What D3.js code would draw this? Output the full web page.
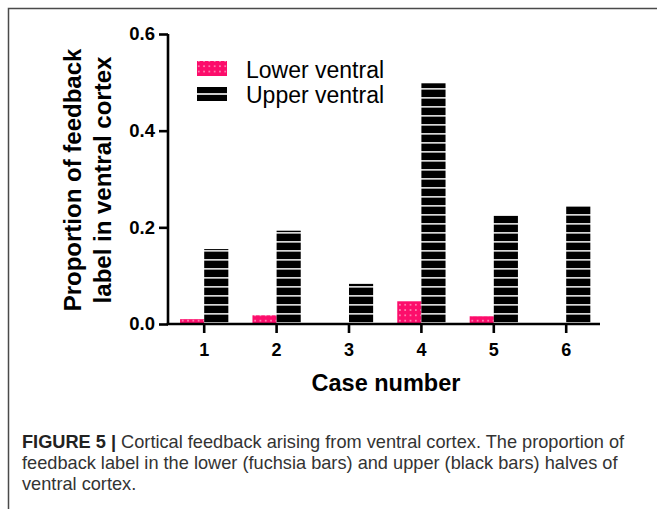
<!DOCTYPE html>
<html>
<head>
<meta charset="utf-8">
<script src="https://cdnjs.cloudflare.com/ajax/libs/d3/7.8.5/d3.min.js"></script>
<style>
  body { margin: 0; background: #fff; }
  svg { display: block; font-family: "Liberation Sans", Arial, sans-serif; }
</style>
</head>
<body>
<div id="chart"></div>
<script>
var cases = ["1", "2", "3", "4", "5", "6"];
var lowerVentral = [0.010, 0.018, 0.000, 0.047, 0.016, 0.000];
var upperVentral = [0.155, 0.193, 0.083, 0.498, 0.224, 0.244];
var seriesNames = ["Lower ventral", "Upper ventral"];
var yTicks = [0, 0.2, 0.4, 0.6];
var captionLines = [
  ["FIGURE 5 | ", "Cortical feedback arising from ventral cortex. The proportion of"],
  ["", "feedback label in the lower (fuchsia bars) and upper (black bars) halves of"],
  ["", "ventral cortex."]
];

var width = 657, height = 509;
var fuchsia = "#fc0d6b";

var svg = d3.select("#chart").append("svg")
    .attr("width", width)
    .attr("height", height);

// patterns
var defs = svg.append("defs");
var dots = defs.append("pattern")
    .attr("id", "dots")
    .attr("patternUnits", "userSpaceOnUse")
    .attr("width", 5.3).attr("height", 5.3);
dots.append("rect").attr("width", 5.3).attr("height", 5.3).attr("fill", fuchsia);
dots.append("rect").attr("x", 2).attr("y", 2).attr("width", 1.3).attr("height", 1.3).attr("fill", "#fff").attr("opacity", 0.85);

var stripes = defs.append("pattern")
    .attr("id", "stripes")
    .attr("patternUnits", "userSpaceOnUse")
    .attr("width", 10).attr("height", 9);
stripes.append("rect").attr("width", 10).attr("height", 9).attr("fill", "#000");
stripes.append("rect").attr("y", 7).attr("width", 10).attr("height", 1.7).attr("fill", "#d8d8d8");

// frame
svg.append("path")
    .attr("d", "M8.5,509 V8.5 H657")
    .attr("fill", "none")
    .attr("stroke", "#4a4a4a")
    .attr("stroke-width", 1.5);

var x = d3.scaleBand().domain(cases).range([168, 602.4]).paddingInner(1 / 3).paddingOuter(1 / 6);
var xs = d3.scaleBand().domain(seriesNames).range([0, x.bandwidth()]);
var y = d3.scaleLinear().domain([0, 0.6]).range([324, 34]);

var rows = cases.map(function(c, i) {
  return { c: c, vals: [lowerVentral[i], upperVentral[i]] };
});

var g = svg.append("g");
g.selectAll("g.case")
  .data(rows)
  .enter().append("g")
    .attr("class", "case")
    .attr("transform", function(d) { return "translate(" + x(d.c) + ",0)"; })
  .selectAll("rect")
  .data(function(d) { return d.vals.map(function(v, k) { return { s: seriesNames[k], v: v }; }); })
  .enter().append("rect")
    .attr("x", function(d) { return xs(d.s); })
    .attr("width", xs.bandwidth())
    .attr("y", function(d) { return y(d.v); })
    .attr("height", function(d) { return y(0) - y(d.v); })
    .attr("fill", function(d) { return d.s == seriesNames[0] ? "url(#dots)" : "url(#stripes)"; });

// y axis
var yAxis = svg.append("g")
    .attr("transform", "translate(168,0)")
    .call(d3.axisLeft(y).tickValues(yTicks).tickFormat(d3.format(".1f")).tickSize(9).tickPadding(4));
yAxis.select(".domain").attr("stroke-width", 2.6).attr("d", "M0," + y(0.6) + "V" + y(0));
yAxis.selectAll(".tick line").attr("stroke-width", 2.6);
yAxis.selectAll(".tick text")
    .attr("font-size", 18.5).attr("font-weight", "bold").attr("fill", "#000");

// x axis
var xAxis = svg.append("g")
    .attr("transform", "translate(0,324)")
    .call(d3.axisBottom(x).tickSize(9).tickPadding(10));
xAxis.select(".domain").attr("stroke-width", 2.6).attr("d", "M166.7,0H600");
xAxis.selectAll(".tick line").attr("stroke-width", 2.6);
xAxis.selectAll(".tick text")
    .attr("font-size", 18).attr("font-weight", "bold").attr("fill", "#000");

// axis titles
svg.append("text")
    .attr("transform", "translate(81,180) rotate(-90)")
    .attr("text-anchor", "middle")
    .attr("font-size", 24).attr("font-weight", "bold")
    .text("Proportion of feedback");
svg.append("text")
    .attr("transform", "translate(111,180) rotate(-90)")
    .attr("text-anchor", "middle")
    .attr("font-size", 24).attr("font-weight", "bold")
    .text("label in ventral cortex");
svg.append("text")
    .attr("x", 386).attr("y", 391)
    .attr("text-anchor", "middle")
    .attr("font-size", 23.5).attr("font-weight", "bold")
    .text("Case number");

// legend
var leg = svg.append("g");
leg.append("rect").attr("x", 197).attr("y", 61).attr("width", 30).attr("height", 15).attr("fill", "url(#dots)");
leg.append("rect").attr("x", 197).attr("y", 87).attr("width", 30).attr("height", 14).attr("fill", "#000");
leg.append("rect").attr("x", 197).attr("y", 93.2).attr("width", 30).attr("height", 1.6).attr("fill", "#fff");
leg.selectAll("text.leg")
  .data(seriesNames)
  .enter().append("text")
    .attr("class", "leg")
    .attr("x", 246)
    .attr("y", function(d, i) { return 78 + i * 25; })
    .attr("font-size", 23)
    .text(function(d) { return d; });

// caption
var cap = svg.append("g").attr("fill", "#333");
captionLines.forEach(function(l, i) {
  var t = cap.append("text")
      .attr("x", 22).attr("y", 448 + i * 21)
      .attr("font-size", 18.2);
  if (l[0]) t.append("tspan").attr("font-weight", "bold").attr("fill", "#222").text(l[0]);
  t.append("tspan").text(l[1]);
});
</script>
</body>
</html>
